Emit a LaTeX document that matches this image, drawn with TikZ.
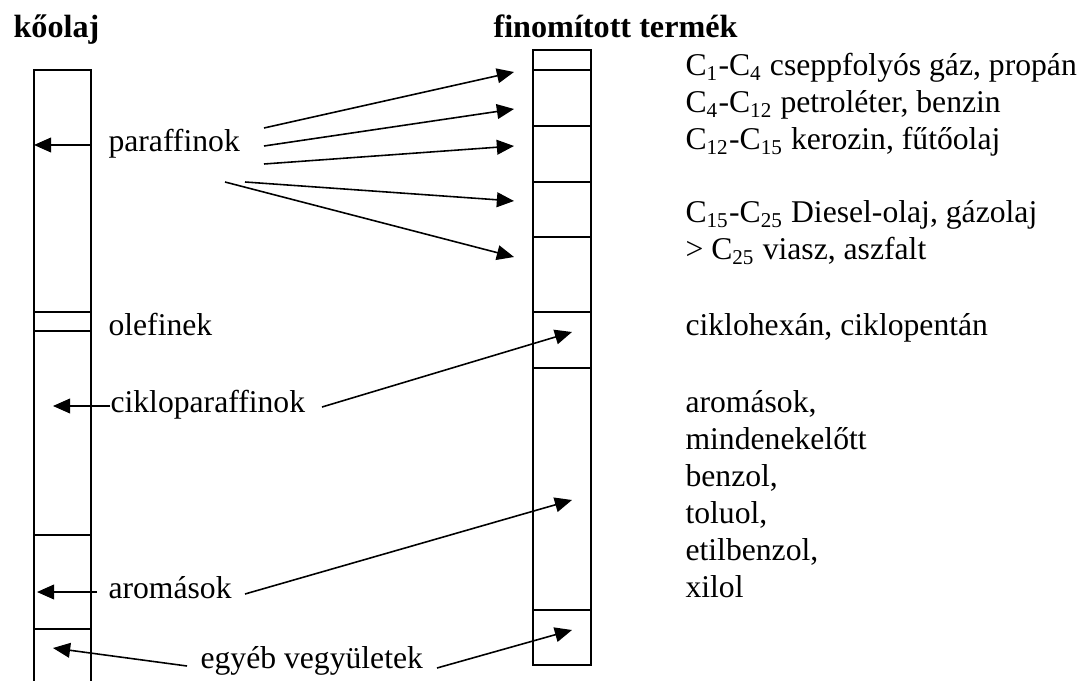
\documentclass[tikz,border=0pt]{standalone}
\usepackage{fontspec}
\setmainfont{Liberation Serif}
\usetikzlibrary{arrows.meta}
\begin{document}
\begin{tikzpicture}[x=0.379pt,y=-0.379pt,
  lbl/.style={anchor=base west,inner sep=0pt,font=\fontsize{12}{14}\selectfont},
  ttl/.style={anchor=base west,inner sep=0pt,font=\fontsize{12.2}{14}\selectfont\bfseries},
  arr/.style={line width=0.6pt,-{Triangle[length=6.5pt,width=5.6pt]}},
  col/.style={line width=0.65pt}]
\useasboundingbox (0,0) rectangle (1082,681);

% titles
\node[ttl] (koolaj) at (13,38) {kőolaj};
\node[ttl] (finom) at (493,38) {finomított termék};

% left column (crude oil)
\draw[col] (34,681) -- (34,70) -- (91,70) -- (91,681);
\foreach \yy in {312,331,535,629} \draw[col] (34,\yy) -- (91,\yy);

% right column (refined products)
\draw[col] (533,50) rectangle (591,665);
\foreach \yy in {70,126,182,237,312,368,610} \draw[col] (533,\yy) -- (591,\yy);

% left labels
\node[lbl] (paraf) at (108,152) {paraffinok};
\node[lbl] (olef) at (108,336) {olefinek};
\node[lbl] (ciklo) at (110,412) {cikloparaffinok};
\node[lbl] (arom) at (108,598) {aromások};
\node[lbl] (egyeb) at (200,668) {egyéb vegyületek};

% right labels
\node[lbl] (r1) at (685,76) {C\textsubscript{1}-C\textsubscript{4} cseppfolyós gáz, propán};
\node[lbl] (r2) at (685,113) {C\textsubscript{4}-C\textsubscript{12} petroléter, benzin};
\node[lbl] (r3) at (685,149.5) {C\textsubscript{12}-C\textsubscript{15} kerozin, fűtőolaj};
\node[lbl] (r4) at (685,223) {C\textsubscript{15}-C\textsubscript{25} Diesel-olaj, gázolaj};
\node[lbl] (r5) at (685,260) {> C\textsubscript{25} viasz, aszfalt};
\node[lbl] (r6) at (685,336) {ciklohexán, ciklopentán};
\node[lbl] (r7) at (685,412) {aromások,};
\node[lbl] (r8) at (685,449) {mindenekelőtt};
\node[lbl] (r9) at (685,486) {benzol,};
\node[lbl] (r10) at (685,523) {toluol,};
\node[lbl] (r11) at (685,560) {etilbenzol,};
\node[lbl] (r12) at (685,597) {xilol};

% arrow end points
\coordinate (a1s) at (91,145);  \coordinate (a1e) at (34,145);
\coordinate (a2s) at (110,406); \coordinate (a2e) at (53,406);
\coordinate (a3s) at (97,592);  \coordinate (a3e) at (37,592);
\coordinate (a4s) at (187,666); \coordinate (a4e) at (53,648);

\coordinate (b1s) at (264,128); \coordinate (b1e) at (514,72);
\coordinate (b2s) at (264,146); \coordinate (b2e) at (514,109);
\coordinate (b3s) at (264,164); \coordinate (b3e) at (514,146);
\coordinate (b4s) at (245,182); \coordinate (b4e) at (514,201);
\coordinate (b5s) at (225,182); \coordinate (b5e) at (514,257);
\coordinate (b6s) at (322,407); \coordinate (b6e) at (572,332);
\coordinate (b7s) at (245,594); \coordinate (b7e) at (572,500);
\coordinate (b8s) at (437,668); \coordinate (b8e) at (572,630);

\foreach \a in {a1,a2,a3,a4,b1,b2,b3,b4,b5,b6,b7,b8}
  \draw[arr] (\a s) -- (\a e);
\end{tikzpicture}
\end{document}
